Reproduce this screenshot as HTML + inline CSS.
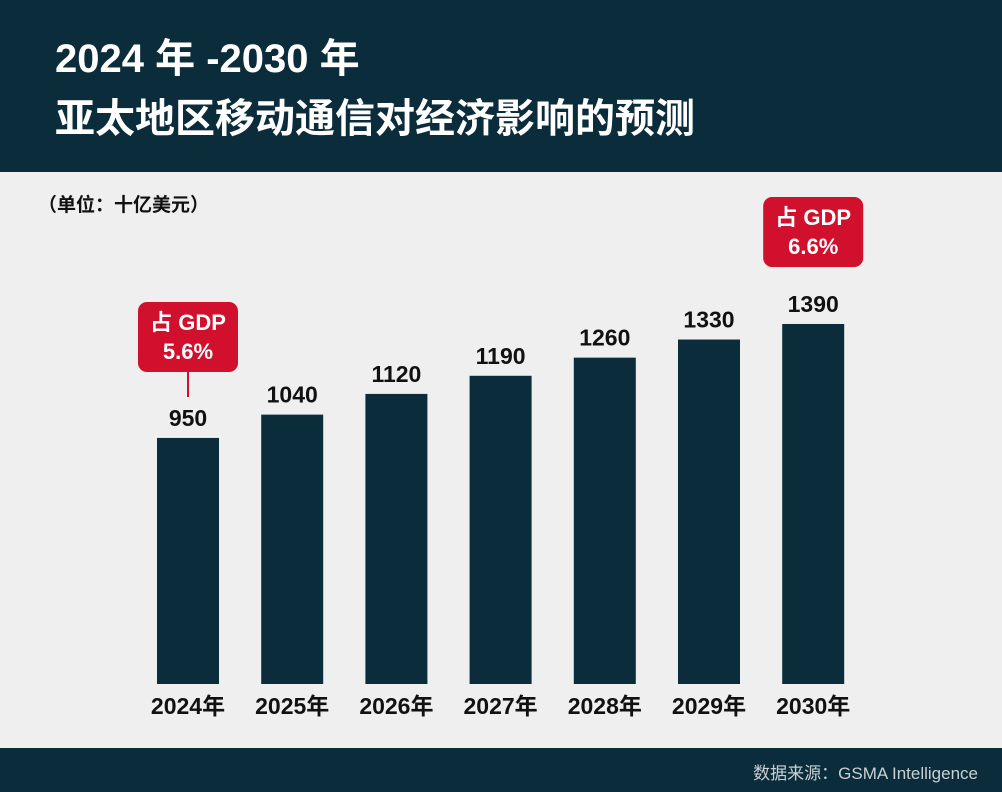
<!DOCTYPE html>
<html><head><meta charset="utf-8"><style>
body{margin:0;width:1002px;height:792px;background:#efefef;font-family:"Liberation Sans","Noto Sans CJK SC",sans-serif;overflow:hidden;position:relative}
#hdr{position:absolute;left:0;top:0;width:1002px;height:172px;background:#0b2c3b;color:#fff}
#hdr div{position:absolute;left:55px;font-weight:bold;font-size:40px;line-height:48px}
#ftr{position:absolute;left:0;top:748px;width:1002px;height:44px;background:#0b2c3b;color:#c9d0d4;font-size:17px}
</style></head><body>
<div id="hdr">
<div style="top:35px">2024 年 -2030 年</div>
<div style="top:95px">亚太地区移动通信对经济影响的预测</div>
</div>
<div style="position:absolute;left:38px;top:190px;font-size:19px;font-weight:bold;color:#111">（单位：十亿美元）</div>
<svg id="chart" width="1002" height="792" style="position:absolute;left:0;top:0"></svg>
<div id="ftr"><span style="position:absolute;right:24px;top:11px">数据来源：GSMA Intelligence</span></div>
<script>
const categories=["2024年","2025年","2026年","2027年","2028年","2029年","2030年"];
const values=[950,1040,1120,1190,1260,1330,1390];
const callouts=[{i:0,text:"5.6%"},{i:6,text:"6.6%"}];
const NS="http://www.w3.org/2000/svg";
const svg=document.getElementById("chart");
const baseY=684,k=0.259,x0=188,step=104.2,bw=62;
const xs=i=>x0+i*step, ys=v=>baseY-v*k;
function mk(t,a){const e=document.createElementNS(NS,t);for(const n in a)e.setAttribute(n,a[n]);svg.appendChild(e);return e;}
categories.forEach((c,i)=>{
 const y=ys(values[i]);
 const r=mk("rect",{x:xs(i)-bw/2,y:y,width:bw,height:baseY-y,fill:"#0b2c3b"});
 
 
 const t=mk("text",{x:xs(i),y:y-12,"text-anchor":"middle","font-size":"23","font-weight":"bold",fill:"#111"});
 t.textContent=values[i];
 
 
 const l=mk("text",{x:xs(i),y:714,"text-anchor":"middle","font-size":"23","font-weight":"bold",fill:"#111"});
 l.textContent=c;
 
 
});
callouts.forEach((co,j)=>{
 const cx=xs(co.i);
 const top=j==0?302:197;
 const g=document.createElementNS(NS,"g");svg.appendChild(g);
 
 
 const r=document.createElementNS(NS,"rect");
 [["x",cx-50],["y",top],["width",100],["height",70],["rx",9],["fill","#d0102c"]].forEach(a=>r.setAttribute(a[0],a[1]));g.appendChild(r);
 if(j==0){const ln=document.createElementNS(NS,"line");[["x1",cx],["x2",cx],["y1",top+70],["y2",top+95],["stroke","#d0102c"],["stroke-width","2"]].forEach(a=>ln.setAttribute(a[0],a[1]));g.appendChild(ln);}
 ["占 GDP",co.text].forEach((s,n)=>{const t=document.createElementNS(NS,"text");
  [["x",cx],["y",top+28+n*29],["text-anchor","middle"],["font-size","22"],["font-weight","bold"],["fill","#fff"]].forEach(a=>t.setAttribute(a[0],a[1]));t.textContent=s;g.appendChild(t);});
});
</script>
</body></html>
